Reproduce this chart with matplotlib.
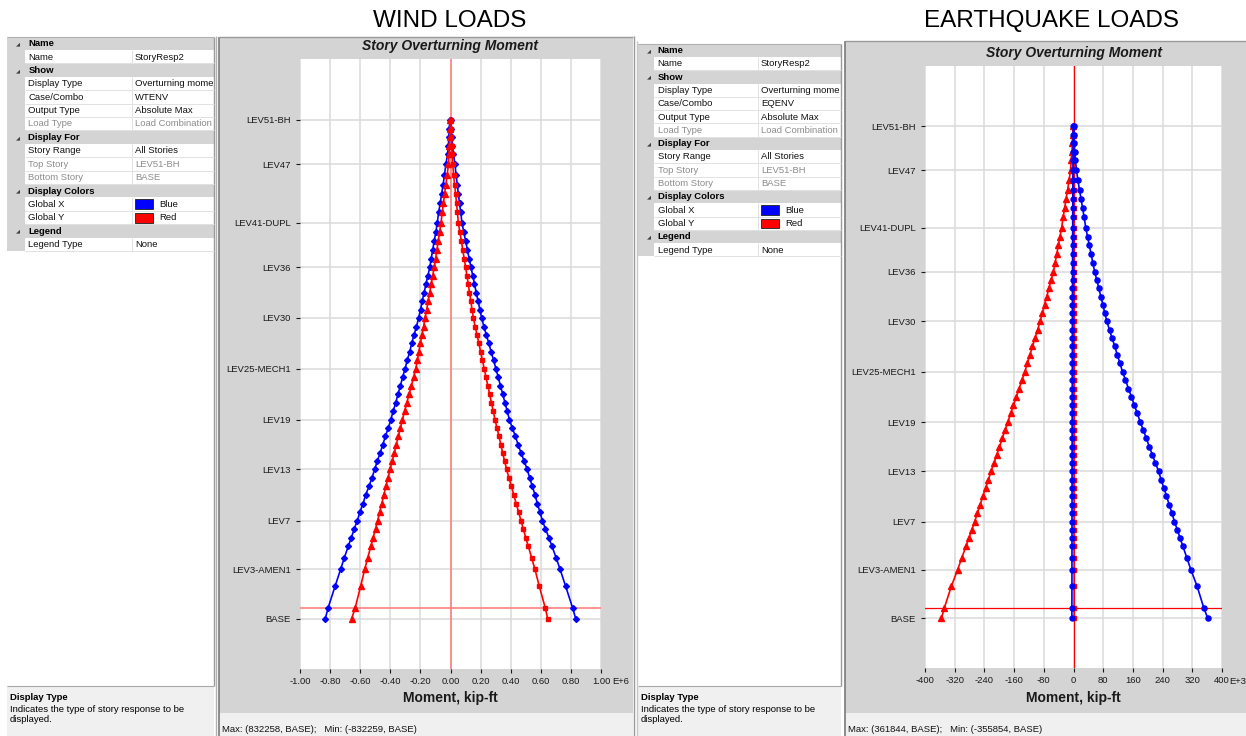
import matplotlib.pyplot as plt
from matplotlib.patches import Rectangle

plt.rcParams["font.family"] = ["Liberation Sans", "DejaVu Sans"]

W, H = 1246, 736

# story labels shown on the vertical axis and their elevations (ft)
STORY_LABELS = ["BASE", "LEV3-AMEN1", "LEV7", "LEV13", "LEV19", "LEV25-MECH1",
                "LEV30", "LEV36", "LEV41-DUPL", "LEV47", "LEV51-BH"]
STORY_TICKS = [0, 61, 121, 184, 245, 308, 371, 433, 488, 560, 615]
GROUND_ELEV = 13

# every plotted story, bottom to top (ft)
ELEV = [0, 13, 40, 61, 75, 90, 100, 111, 121,
        132, 142, 153, 163, 173, 184,
        194, 204, 214, 225, 235, 245,
        256, 266, 277, 287, 298, 308,
        319, 329, 340, 350, 360, 371,
        381, 392, 402, 413, 423, 433,
        444, 455, 466, 477, 488,
        501, 512, 524, 535, 547, 560,
        573, 583, 594, 604, 615]

# WTENV overturning moment, kip-ft x 1E6
WIND_X_MIN = [-0.832, -0.814, -0.767, -0.730, -0.706, -0.678, -0.659, -0.639, -0.619,
              -0.601, -0.581, -0.563, -0.542, -0.523, -0.504,
              -0.487, -0.468, -0.451, -0.432, -0.414, -0.397,
              -0.381, -0.364, -0.349, -0.333, -0.318, -0.302,
              -0.287, -0.271, -0.257, -0.242, -0.226, -0.212,
              -0.199, -0.188, -0.175, -0.163, -0.150, -0.138,
              -0.128, -0.118, -0.108, -0.097, -0.088,
              -0.079, -0.068, -0.059, -0.049, -0.040, -0.031,
              -0.019, -0.014, -0.011, -0.008, -0.005]
WIND_X_MAX = [0.832, 0.812, 0.765, 0.728, 0.702, 0.673, 0.653, 0.631, 0.610,
              0.594, 0.577, 0.561, 0.544, 0.527, 0.510,
              0.490, 0.470, 0.450, 0.431, 0.411, 0.392,
              0.377, 0.362, 0.347, 0.332, 0.317, 0.302,
              0.286, 0.270, 0.254, 0.238, 0.222, 0.207,
              0.195, 0.183, 0.171, 0.159, 0.148, 0.136,
              0.124, 0.112, 0.100, 0.088, 0.076,
              0.068, 0.060, 0.052, 0.045, 0.037, 0.030,
              0.019, 0.013, 0.009, 0.006, 0.004]
WIND_Y_MIN = [-0.657, -0.634, -0.597, -0.570, -0.550, -0.528, -0.514, -0.498, -0.484,
              -0.470, -0.456, -0.443, -0.429, -0.416, -0.402,
              -0.388, -0.374, -0.361, -0.347, -0.333, -0.320,
              -0.305, -0.290, -0.275, -0.260, -0.245, -0.231,
              -0.220, -0.210, -0.200, -0.190, -0.179, -0.169,
              -0.158, -0.148, -0.138, -0.128, -0.118, -0.108,
              -0.099, -0.090, -0.081, -0.072, -0.063,
              -0.055, -0.047, -0.039, -0.031, -0.022, -0.014,
              -0.010, -0.007, -0.005, -0.003, -0.002]
WIND_Y_MAX = [0.646, 0.630, 0.590, 0.561, 0.539, 0.516, 0.500, 0.483, 0.468,
              0.452, 0.436, 0.420, 0.405, 0.389, 0.373,
              0.360, 0.347, 0.335, 0.322, 0.309, 0.296,
              0.284, 0.272, 0.260, 0.248, 0.236, 0.224,
              0.212, 0.200, 0.188, 0.176, 0.164, 0.152,
              0.143, 0.135, 0.126, 0.118, 0.109, 0.101,
              0.091, 0.081, 0.072, 0.062, 0.052,
              0.046, 0.040, 0.034, 0.027, 0.021, 0.015,
              0.011, 0.008, 0.006, 0.004, 0.003]

# EQENV overturning moment, kip-ft x 1E3
EQ_X_MAX = [361.8, 351.0, 333.0, 316.0, 305.7, 294.7, 287.3, 279.3, 272.0,
            264.8, 257.7, 250.5, 243.3, 236.2, 229.0,
            220.8, 212.7, 204.5, 196.3, 188.2, 180.0,
            172.0, 164.0, 156.0, 148.0, 140.0, 132.0,
            125.0, 118.0, 111.0, 104.0, 97.0, 90.0,
            84.5, 79.0, 73.5, 68.0, 62.5, 57.0,
            52.2, 47.4, 42.6, 37.8, 33.0,
            28.8, 24.6, 20.4, 16.2, 12.0, 8.0,
            5.0, 3.0, 2.0, 1.5, 1.0]
EQ_X_MIN = [-4.4, -4.3, -4.2, -4.2, -4.1, -4.1, -4.0, -4.0, -4.0,
            -3.9, -3.9, -3.9, -3.8, -3.8, -3.8,
            -3.7, -3.7, -3.6, -3.6, -3.6, -3.5,
            -3.5, -3.4, -3.4, -3.3, -3.3, -3.2,
            -3.2, -3.1, -3.1, -3.0, -3.0, -2.9,
            -2.9, -2.8, -2.8, -2.7, -2.6, -2.6,
            -2.5, -2.4, -2.4, -2.3, -2.2,
            -2.1, -2.0, -1.9, -1.8, -1.7, -1.5,
            -1.3, -1.1, -0.9, -0.7, -0.5]
EQ_Y_MIN = [-355.9, -348.0, -329.0, -312.0, -301.3, -289.8, -282.1, -273.7, -266.0,
            -258.7, -251.3, -244.0, -236.7, -229.3, -222.0,
            -214.5, -207.0, -199.5, -192.0, -184.5, -177.0,
            -169.3, -161.7, -154.0, -146.3, -138.7, -131.0,
            -124.2, -117.3, -110.5, -103.7, -96.8, -90.0,
            -84.0, -78.0, -72.0, -66.0, -60.0, -54.0,
            -49.6, -45.2, -40.8, -36.4, -32.0,
            -28.0, -24.0, -20.0, -16.0, -12.0, -8.0,
            -6.0, -4.0, -3.0, -2.0, -1.0]
EQ_Y_MAX = [1.9, 1.9, 1.8, 1.8, 1.8, 1.7, 1.7, 1.7, 1.7,
            1.6, 1.6, 1.6, 1.6, 1.5, 1.5,
            1.5, 1.5, 1.4, 1.4, 1.4, 1.4,
            1.3, 1.3, 1.3, 1.3, 1.2, 1.2,
            1.2, 1.2, 1.1, 1.1, 1.1, 1.1,
            1.0, 1.0, 1.0, 0.9, 0.9, 0.9,
            0.9, 0.8, 0.8, 0.8, 0.7,
            0.7, 0.7, 0.6, 0.6, 0.5, 0.5,
            0.4, 0.4, 0.3, 0.3, 0.2]

WIND_TICKS = [-1.0, -0.8, -0.6, -0.4, -0.2, 0.0, 0.2, 0.4, 0.6, 0.8, 1.0]
WIND_TICKLABELS = ["-1.00", "-0.80", "-0.60", "-0.40", "-0.20", "0.00",
                   "0.20", "0.40", "0.60", "0.80", "1.00"]
EQ_TICKS = [-400, -320, -240, -160, -80, 0, 80, 160, 240, 320, 400]
EQ_TICKLABELS = ["-400", "-320", "-240", "-160", "-80", "0",
                 "80", "160", "240", "320", "400"]

# property grid rows: (kind, name, value); h = header, g = greyed out, c = colour
WIND_PROPS = [("h", "Name", ""), ("r", "Name", "StoryResp2"),
              ("h", "Show", ""), ("r", "Display Type", "Overturning moment"),
              ("r", "Case/Combo", "WTENV"), ("r", "Output Type", "Absolute Max"),
              ("g", "Load Type", "Load Combination"),
              ("h", "Display For", ""), ("r", "Story Range", "All Stories"),
              ("g", "Top Story", "LEV51-BH"), ("g", "Bottom Story", "BASE"),
              ("h", "Display Colors", ""), ("c", "Global X", "Blue"),
              ("c", "Global Y", "Red"),
              ("h", "Legend", ""), ("r", "Legend Type", "None")]
EQ_PROPS = [(k, n, "EQENV" if v == "WTENV" else v) for k, n, v in WIND_PROPS]

GREY = "#d4d4d4"
LIGHT = "#f0f0f0"
FS = 6.8

fig = plt.figure(figsize=(W / 100, H / 100), dpi=100)
fig.patch.set_facecolor("white")
canvas = fig.add_axes([0, 0, 1, 1])
canvas.set_xlim(0, W)
canvas.set_ylim(H, 0)
canvas.axis("off")


def box(x0, y0, x1, y1, fc, ec="none", lw=0.0, z=1):
    canvas.add_patch(Rectangle((x0, y0), x1 - x0, y1 - y0, facecolor=fc,
                               edgecolor=ec, linewidth=lw, zorder=z))


def line(xs, ys, color, lw=0.8, z=2):
    canvas.plot(xs, ys, color=color, lw=lw, zorder=z, solid_capstyle="butt")


def draw_props(rows, x0, x1, xstrip, xsplit, y0, dy, bottom):
    line([x1, x1], [y0, bottom], "#9a9a9a", 1.0)
    line([x0, x1], [y0, y0], "#b0b0b0", 0.8)
    clip = Rectangle((x0, y0), x1 - x0 - 1, bottom - y0, transform=canvas.transData)
    for i, (kind, name, value) in enumerate(rows):
        top = y0 + i * dy
        yc = top + dy / 2 + 0.3
        if kind == "h":
            box(x0, top, x1, top + dy, GREY)
            canvas.text(x0 + 11, yc, "\u25e2", fontsize=3.8, color="#404040",
                        ha="center", va="center", zorder=3)
            canvas.text(xstrip + 3.5, yc, name, fontsize=FS, weight="bold",
                        va="center", zorder=3)
            continue
        box(x0, top, xstrip, top + dy, GREY)
        box(xstrip, top, x1, top + dy, "white")
        line([xstrip, x1], [top + dy, top + dy], "#e2e2e2", 0.7)
        line([xsplit, xsplit], [top, top + dy], "#e2e2e2", 0.7)
        color = "#8c8c8c" if kind == "g" else "#111111"
        canvas.text(xstrip + 3.5, yc, name, fontsize=FS, color=color,
                    va="center", zorder=3)
        xv = xsplit + 3
        if kind == "c":
            box(xv, top + 2, xv + 18, top + dy - 1.5,
                "#0000ff" if value == "Blue" else "#ff0000", ec="#202020", lw=0.6, z=3)
            xv += 24
        t = canvas.text(xv, yc, value, fontsize=FS, color=color, va="center",
                        zorder=3, clip_on=True)
        t.set_clip_path(clip)


def draw_help(x0, x1, y0):
    box(x0, y0, x1, H, LIGHT)
    line([x0, x1], [y0, y0], "#a8a8a8", 0.8)
    canvas.text(x0 + 3, y0 + 11, "Display Type", fontsize=FS, weight="bold", va="center")
    canvas.text(x0 + 3, y0 + 23, "Indicates the type of story response to be",
                fontsize=FS, va="center")
    canvas.text(x0 + 3, y0 + 34, "displayed.", fontsize=FS, va="center")


def draw_chart(px, frame, title_y, xlim, ticks, ticklabels, exp_x, exp_txt,
               series, ref_color, ref_lw, status):
    x0, y0, x1, y1 = px
    fx0, fy0, fx1, fy1 = frame
    box(fx0, fy0, fx1, fy1, GREY)
    box(fx0, fy1, fx1, H, LIGHT)
    line([fx0, fx0], [fy0, H], "#7a7a7a", 1.2)
    line([fx0, fx1], [fy0, fy0], "#9a9a9a", 1.0)
    cx = (x0 + x1) / 2
    canvas.text(cx, title_y, "Story Overturning Moment", fontsize=10,
                weight="bold", style="italic", color="#1a1a1a",
                ha="center", va="center", zorder=3)
    canvas.text(cx, 698, "Moment, kip-ft", fontsize=10, weight="bold",
                color="#1a1a1a", ha="center", va="center", zorder=3)
    canvas.text(exp_x, 682, exp_txt, fontsize=FS, color="#1a1a1a",
                ha="left", va="center", zorder=3)
    canvas.text(fx0 + 3, 730, status, fontsize=FS, color="#111111",
                va="center", zorder=3)

    ax = fig.add_axes([x0 / W, 1 - y1 / H, (x1 - x0) / W, (y1 - y0) / H])
    ax.set_zorder(2)
    ax.set_facecolor("white")
    for sp in ax.spines.values():
        sp.set_visible(False)
    ax.set_xlim(*xlim)
    ax.set_ylim(-62, 690)
    ax.set_xticks(ticks)
    ax.set_xticklabels(ticklabels)
    ax.set_yticks(STORY_TICKS)
    ax.set_yticklabels(STORY_LABELS)
    ax.tick_params(axis="x", length=3, width=0.8, labelsize=FS, pad=3,
                   colors="#1a1a1a")
    ax.tick_params(axis="y", length=3.2, width=0.8, labelsize=FS, pad=3.5,
                   colors="#1a1a1a")
    ax.grid(True, color="#dadada", lw=1.1)
    ax.set_axisbelow(True)
    ax.axvline(0, color=ref_color, lw=ref_lw, zorder=1.5)
    ax.axhline(GROUND_ELEV, color=ref_color, lw=ref_lw, zorder=1.5)
    for vals, color, marker, ms in series:
        ax.plot(vals, ELEV, color=color, lw=1.2, marker=marker, ms=ms,
                mec=color, mfc=color, zorder=3)
    return ax


# window titles
canvas.text(450, 21, "WIND LOADS", fontsize=17.5, ha="center", va="center")
canvas.text(1052, 21, "EARTHQUAKE LOADS", fontsize=17.5, ha="center", va="center")

# left property grid
draw_props(WIND_PROPS, 7, 214, 25, 132, 36.6, 13.4, 686)
draw_help(7, 214, 686)
line([216, 216], [36, H], "#b0b0b0", 1.0)

# right property grid
draw_props(EQ_PROPS, 638, 841, 654, 758, 43.6, 13.3, 686)
draw_help(638, 841, 686)
line([634, 634], [36, H], "#9a9a9a", 1.0)
line([636.5, 636.5], [41, H], "#c8c8c8", 1.0)

draw_chart((300, 59, 601, 669), (219, 36.5, 633, 713), 46, (-1.0, 1.0),
           WIND_TICKS, WIND_TICKLABELS, 612.5, "E+6",
           [(WIND_X_MIN, "#0000ff", "D", 3.0),
            (WIND_X_MAX, "#0000ff", "D", 3.0),
            (WIND_Y_MIN, "#ff0000", "^", 4.0),
            (WIND_Y_MAX, "#ff0000", "s", 3.4)],
           "#ff8080", 1.2, "Max: (832258, BASE);   Min: (-832259, BASE)")

draw_chart((925, 66, 1222, 668), (845, 41, W, 713), 53, (-400, 400),
           EQ_TICKS, EQ_TICKLABELS, 1229.5, "E+3",
           [(EQ_Y_MIN, "#ff0000", "^", 4.0),
            (EQ_Y_MAX, "#ff0000", "s", 3.4),
            (EQ_X_MAX, "#0000ff", "o", 3.7),
            (EQ_X_MIN, "#0000ff", "o", 3.5)],
           "#ff0000", 0.9, "Max: (361844, BASE);   Min: (-355854, BASE)")

fig.savefig("out.png", dpi=100, facecolor=fig.get_facecolor())
